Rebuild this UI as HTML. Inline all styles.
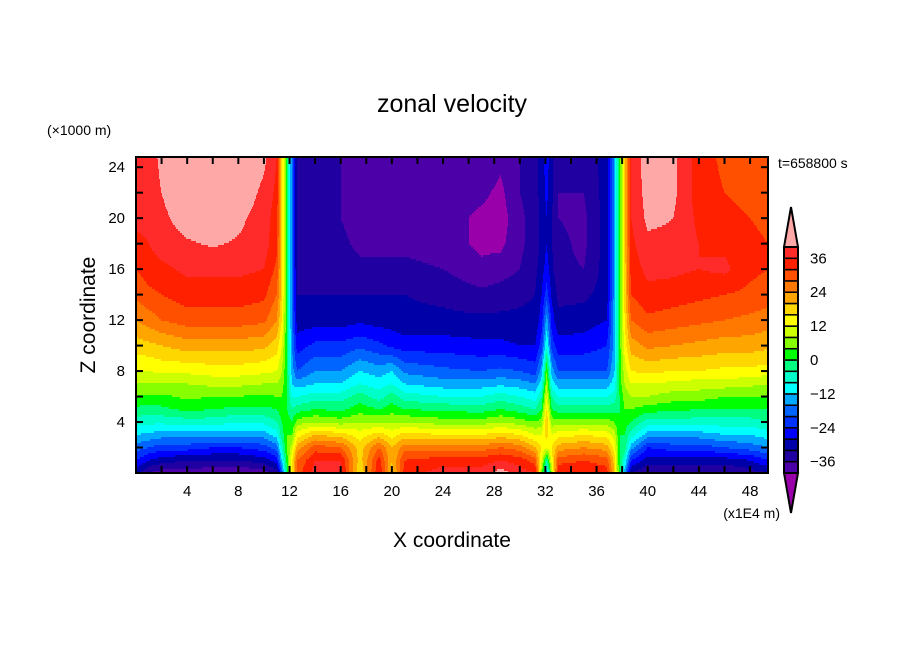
<!DOCTYPE html>
<html><head><meta charset="utf-8"><style>
html,body{margin:0;padding:0;background:#fff;}
svg{display:block;font-family:"Liberation Sans","DejaVu Sans",sans-serif;}
</style></head><body>
<svg id="chart" width="904" height="654" viewBox="0 0 904 654" xmlns="http://www.w3.org/2000/svg">
<rect width="904" height="654" fill="#fff"/>
<text x="452" y="112" text-anchor="middle" font-size="25">zonal velocity</text>
<text x="47" y="135" font-size="14">(×1000 m)</text>
<text x="95" y="315" font-size="21" text-anchor="middle" transform="rotate(-90 95 315)">Z coordinate</text>
<text x="452" y="547" font-size="21" text-anchor="middle">X coordinate</text>
<text x="780" y="518" font-size="14" text-anchor="end">(x1E4 m)</text>
<text x="778" y="168" font-size="14">t=658800 s</text>
<g id="field"></g>
<g id="axes"></g>
<g id="cbar"></g>
</svg>
<script>
// ---- data ----
const zLevels = [0,1,2,3,4,5,6,7,8,10,12,14,16,18,20,22,24.8];
const xGrid = [0,1,2,4,6,8,10,11,11.4,11.8,12.2,12.6,14,16,17.5,19,20,21,24,27,28.5,30,31.2,31.7,32.1,32.5,33,35,36.8,37.4,37.8,38.2,38.7,40,42,44,46,48,49.4];
const uField = [
[-30,-24,-18,-12,-6,-1,4,8,12,18,24,29,32,35,37,38,38],
[-36,-28,-20,-13,-7,-2,3,8,12,19,26,31,34,36,37,38,38],
[-38,-30,-22,-14,-7,-1,3,8,13,20,28,32,35,38,39,40,41],
[-38,-32,-22,-14,-6,1,5,8,13,22,30,34,37,39.5,42,44,44],
[-39,-32,-24,-14,-6,0,4,9,14,22,30,34,37,40.5,43,44,44],
[-40,-32,-24,-14,-8,-1,4,9,14,22,30,34,37,39.5,41,43,44],
[-38,-30,-22,-14,-7,-1,3,8,13,21,29,33,36,38,38,39,41],
[-34,-26,-18,-10,-4,0,4,8,12,18,24,28,31,33,34,35,36],
[-20,-12,-6,-2,0,2,4,6,8,12,16,18,18,18,18,18,18],
[0,2,4,4,2,0,0,0,0,0,0,0,0,0,0,0,0],
[16,16,10,4,0,-4,-8,-12,-14,-16,-18,-18,-18,-18,-18,-18,-18],
[30,28,22,14,6,-2,-8,-14,-20,-26,-30,-32,-33,-34,-34,-34,-34],
[38,36,30,20,8,0,-6,-12,-16,-23,-30,-32,-34,-35,-35,-35,-35],
[38,36,28,18,6,-1,-6,-12,-16,-23,-30,-32,-34,-35,-36,-36,-36],
[16,18,18,14,8,2,-2,-8,-12,-21,-29,-32,-35,-37,-38,-38,-37],
[36,34,28,18,8,0,-6,-10,-14,-23,-30,-32,-35,-37,-38,-38,-38],
[18,20,20,14,8,2,-2,-8,-12,-25,-30,-32,-35,-37,-38,-38,-38],
[34,32,26,18,8,0,-6,-12,-17,-26,-31,-32,-35,-37,-38,-38,-38],
[38,34,26,16,6,-1,-8,-14,-19,-26,-31,-33,-36,-38,-38,-37,-37],
[38,34,26,16,6,-2,-8,-14,-20,-27,-31,-35,-39,-41,-41,-39,-37],
[42,36,28,18,8,0,-6,-13,-19,-27,-31,-34,-38,-41,-42,-41,-39],
[38,34,26,16,6,-2,-8,-14,-20,-28,-31,-33,-36,-37,-37,-36,-36],
[36,30,20,12,4,-4,-10,-16,-22,-28,-31,-32,-33,-34,-34,-34,-34],
[6,12,16,12,6,0,-4,-10,-14,-22,-26,-28,-30,-31,-31,-30,-30],
[-14,-4,12,18,20,16,12,8,4,-8,-14,-22,-26,-28,-28,-27,-26],
[8,14,16,12,6,0,-4,-10,-14,-22,-26,-29,-31,-32,-32,-31,-31],
[36,30,22,14,6,-2,-8,-14,-20,-26,-31,-33,-35,-35,-36,-36,-35],
[36,32,24,16,6,-2,-8,-14,-20,-26,-30,-33,-36,-37,-37,-36,-35],
[34,30,22,14,6,-2,-8,-14,-20,-24,-28,-30,-30,-30,-30,-30,-30],
[20,18,14,10,4,-2,-6,-10,-12,-14,-14,-14,-14,-14,-14,-14,-14],
[0,0,0,0,0,0,0,2,2,2,2,2,2,2,2,2,2],
[-14,-8,-2,0,2,4,6,8,10,14,16,18,18,18,18,18,18],
[-32,-24,-14,-6,0,4,8,12,16,22,28,32,34,35,36,36,36],
[-36,-30,-24,-14,-6,2,8,12,17,25,31,35,37,39,41,42,43],
[-36,-30,-22,-14,-6,1,6,11,16,24,30,34,37,39,40,41,41],
[-36,-30,-22,-14,-6,0,6,10,16,23,29,33,36,36,35,34,34],
[-36,-30,-20,-12,-6,0,4,10,15,22,28,32,37,35,33,32,31],
[-34,-28,-18,-12,-6,0,4,9,15,22,27,31,33,33,32,31,31],
[-32,-24,-16,-10,-4,0,4,8,14,21,26,30,32,32,31,31,31]
];
const levelColors = ["#9a00aa","#4c00a8","#2000a0","#0000a8","#0000ff","#0032ff","#0064ff","#00a8ff","#00ffff","#00ffc8","#00ff80","#00ff00","#88ff00","#ccff00","#ffff00","#ffd700","#ffa500","#ff7800","#ff5000","#ff2000","#ff2a2a","#ffa8a8"];
const levelMin = -40, levelStep = 4;
const xTicks = [4,8,12,16,20,24,28,32,36,40,44,48];
const yTicks = [4,8,12,16,20,24];
const cbarLabels = [36,24,12,0,-12,-24,-36];

// ---- layout ----
const NS = "http://www.w3.org/2000/svg";
const PL=136, PR=768, PT=157, PB=473;
const X0=0, X1=49.4, Z0=0, Z1=24.8;
const sx = v => PL + (v-X0)/(X1-X0)*(PR-PL);
const sy = v => PB - (v-Z0)/(Z1-Z0)*(PB-PT);
const ix = p => X0 + (p-PL)/(PR-PL)*(X1-X0);
const iy = p => Z0 + (PB-p)/(PB-PT)*(Z1-Z0);
function mk(tag, attrs, parent){const e=document.createElementNS(NS,tag);for(const k in attrs)e.setAttribute(k,attrs[k]);parent.appendChild(e);return e;}
function seg(arr,v){let i=0;while(i<arr.length-2&&v>arr[i+1])i++;const t=Math.max(0,Math.min(1,(v-arr[i])/(arr[i+1]-arr[i])));return [i,t];}
function val(x,z){const [i,tx]=seg(xGrid,x);const [j,tz]=seg(zLevels,z);
 const a=uField[i][j],b=uField[i+1][j],c=uField[i][j+1],d=uField[i+1][j+1];
 return (a*(1-tx)+b*tx)*(1-tz)+(c*(1-tx)+d*tx)*tz;}
function colorIdx(v){let k=Math.floor((v-levelMin)/levelStep)+1;return Math.max(0,Math.min(levelColors.length-1,k));}

// ---- field ----
const field=document.getElementById('field');
const rowH=2;
for(let py=PT;py<PB;py+=rowH){
 const z=iy(py+rowH/2);
 let runStart=PL, runC=colorIdx(val(ix(PL+0.5),z));
 for(let px=PL+1;px<=PR;px++){
  const c = px<PR ? colorIdx(val(ix(px+0.5),z)) : -1;
  if(c!==runC){
   const r=mk('rect',{x:runStart,y:py,width:px-runStart+0.4,height:rowH+0.4,fill:levelColors[runC]},field);
   
   
   runStart=px;runC=c;
  }
 }
}

// ---- axes ----
const axes=document.getElementById('axes');
const frame=mk('rect',{x:PL,y:PT,width:PR-PL,height:PB-PT,fill:'none',stroke:'#000','stroke-width':2},axes);


for(let v=2;v<X1;v+=2){
 const x=sx(v);
 const t1=mk('line',{x1:x,y1:PB,x2:x,y2:PB-7,stroke:'#000','stroke-width':2},axes);
 
 
 const t2=mk('line',{x1:x,y1:PT,x2:x,y2:PT+7,stroke:'#000','stroke-width':2},axes);
 
 
}
for(let v=2;v<Z1;v+=2){
 const y=sy(v);
 const t1=mk('line',{x1:PL,y1:y,x2:PL+7,y2:y,stroke:'#000','stroke-width':2},axes);
 
 
 const t2=mk('line',{x1:PR,y1:y,x2:PR-7,y2:y,stroke:'#000','stroke-width':2},axes);
 
 
}
xTicks.forEach(v=>{
 const t=mk('text',{x:sx(v),y:496,'text-anchor':'middle','font-size':15},axes);t.textContent=v;
 
 
});
yTicks.forEach(v=>{
 const t=mk('text',{x:125,y:sy(v)+5,'text-anchor':'end','font-size':15},axes);t.textContent=v;
 
 
});

// ---- colorbar ----
const cb=document.getElementById('cbar');
const CL=784, CR=798, CT=247, CB=473, nBox=levelColors.length-2;
const bh=(CB-CT)/nBox;
const cy = v => CB - (v-levelMin)/(nBox*levelStep)*(CB-CT);
const up=mk('polygon',{points:`${CL},${CT} ${(CL+CR)/2},${CT-40} ${CR},${CT}`,fill:levelColors[levelColors.length-1],stroke:'#000','stroke-width':2},cb);


const dn=mk('polygon',{points:`${CL},${CB} ${(CL+CR)/2},${CB+40} ${CR},${CB}`,fill:levelColors[0],stroke:'#000','stroke-width':2},cb);


for(let k=1;k<=nBox;k++){
 const lo=levelMin+(k-1)*levelStep;
 const r=mk('rect',{x:CL,y:cy(lo+levelStep),width:CR-CL,height:bh,fill:levelColors[k],stroke:'#000','stroke-width':1.5},cb);
 
 
}
mk('rect',{x:CL,y:CT,width:CR-CL,height:CB-CT,fill:'none',stroke:'#000','stroke-width':2},cb);
cbarLabels.forEach(v=>{
 const t=mk('text',{x:810,y:cy(v)+5,'font-size':15},cb);t.textContent=(v<0?'\u2212'+(-v):v);
 
 
});
</script>
</body></html>
